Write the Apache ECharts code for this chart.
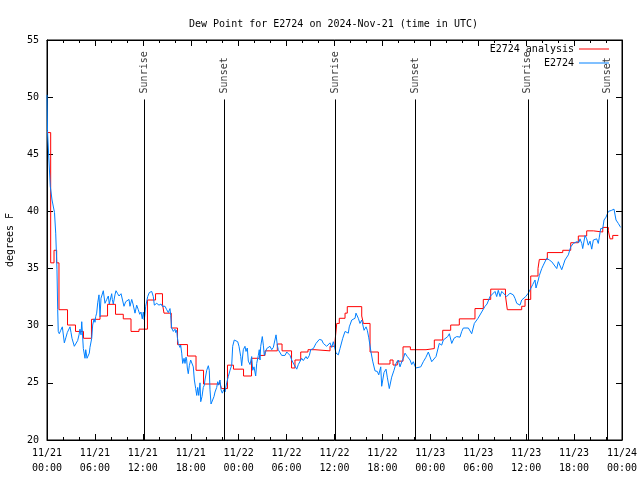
<!DOCTYPE html>
<html>
<head>
<meta charset="utf-8">
<script src="https://cdn.jsdelivr.net/npm/echarts@6/dist/echarts.min.js"></script>
<style>html,body{margin:0;padding:0;background:#fff}#chart{width:640px;height:480px}</style>
</head>
<body>
<div id="chart"></div>
<script>
// ---- data (time in hours since 2024-11-21 00:00 UTC) ----
const redHours = [0,0.46,0.88,1.21,1.50,2.57,3.57,4.57,5.57,6.64,7.58,8.58,9.55,10.52,11.52,12.58,13.59,14.46,14.65,15.56,16.34,17.59,18.66,19.60,21.60,21.85,22.60,23.35,24.61,25.61,26.61,27.30,28.84,29.43,30.62,31.05,31.77,32.68,33.56,35.44,36.06,36.28,36.60,37.32,37.60,39.41,39.61,40.45,41.49,42.95,43.33,43.86,44.58,45.50,47.46,48.50,49.55,50.55,51.63,53.59,54.63,55.56,57.41,57.64,59.44,59.86,60.57,61.48,61.65,62.65,64.58,65.58,66.53,67.58,68.41,69.59,70.29,70.50,70.84,71.54];
const redValues = [46.9,35.5,36.6,35.5,31.4,30.06,29.5,28.9,30.56,30.85,31.87,31.0,30.6,29.5,29.7,32.25,32.8,31.9,31.1,29.8,28.35,27.35,26.1,24.9,25.1,24.5,26.55,26.2,25.6,27.15,27.4,27.8,28.4,27.8,26.3,27.0,27.7,27.9,27.8,28.2,28.6,30.2,30.65,31.1,31.67,30.85,30.2,27.7,26.65,27.0,26.56,26.9,28.15,27.9,28.0,28.75,29.6,30.06,30.6,31.5,32.3,33.2,32.6,31.4,31.7,32.3,34.35,35.0,35.8,36.4,36.6,37.26,37.85,38.3,38.2,38.6,38.3,37.6,37.9,37.9];

const blueHours = [0.00,0.06,0.19,0.41,0.63,0.94,1.09,1.25,1.34,1.41,1.54,1.72,1.92,2.17,2.38,2.54,2.88,3.01,3.13,3.42,3.63,3.84,4.01,4.13,4.26,4.35,4.55,4.76,4.85,5.01,5.17,5.30,5.38,5.60,5.72,5.89,6.01,6.10,6.22,6.35,6.51,6.64,6.76,7.05,7.26,7.48,7.68,7.80,8.10,8.18,8.30,8.51,8.64,8.85,9.02,9.27,9.43,9.64,9.85,10.02,10.27,10.39,10.61,10.77,10.93,11.02,11.23,11.43,11.61,11.77,11.93,12.06,12.18,12.36,12.61,12.81,13.11,13.31,13.44,13.74,14.02,14.28,14.44,14.78,14.99,15.19,15.40,15.49,15.61,15.82,16.03,16.12,16.24,16.32,16.44,16.65,16.74,16.87,16.99,17.16,17.28,17.41,17.49,17.57,17.69,17.82,17.99,18.24,18.32,18.45,18.62,18.75,18.87,19.00,19.16,19.25,19.41,19.57,19.70,19.78,20.00,20.20,20.32,20.41,20.54,20.75,20.91,21.04,21.25,21.38,21.50,21.66,21.79,21.95,22.13,22.29,22.50,22.70,22.92,23.13,23.25,23.45,23.67,23.88,24.04,24.26,24.38,24.58,24.79,24.92,25.08,25.21,25.42,25.63,25.76,25.92,26.13,26.26,26.46,26.58,26.67,26.76,26.96,27.09,27.21,27.39,27.51,27.71,27.92,28.14,28.34,28.68,28.84,28.96,29.18,29.39,29.80,30.02,30.22,30.43,30.64,30.84,30.93,31.05,31.27,31.47,31.89,32.09,32.43,32.60,32.85,33.02,33.35,33.68,33.85,34.10,34.40,34.60,34.81,35.02,35.22,35.44,35.65,35.85,36.06,36.19,36.48,36.69,37.03,37.32,37.44,37.73,37.85,38.16,38.57,38.69,38.98,39.19,39.41,39.70,39.95,40.11,40.28,40.57,40.78,41.07,41.36,41.54,41.79,41.91,42.20,42.45,42.61,42.86,43.16,43.45,43.70,43.99,44.20,44.42,44.62,44.83,45.12,45.46,45.67,45.87,46.17,46.80,47.12,47.42,47.75,48.17,48.37,48.71,49.12,49.42,49.63,50.18,50.38,50.68,50.96,51.30,51.71,51.93,52.13,52.76,53.18,53.51,53.72,53.97,54.22,54.43,54.63,54.85,55.10,55.47,56.10,56.31,56.51,56.73,56.94,57.14,57.56,57.98,58.19,58.39,58.60,58.82,59.23,59.44,59.64,59.94,60.27,60.48,60.82,61.11,61.23,61.52,61.65,61.95,62.15,62.57,62.90,63.20,63.40,63.83,64.03,64.24,64.45,64.65,64.86,65.28,65.58,65.90,66.33,66.62,66.74,66.96,67.08,67.37,67.58,67.78,68.00,68.21,68.41,68.83,69.03,69.16,69.33,69.59,69.75,70.00,70.29,70.50,70.71,70.84,71.00,71.25,71.54,71.75,71.84];
const blueValues = [50.2,47.1,45.2,42.2,41.0,39.9,38.1,34.9,31.4,29.5,29.3,29.6,29.9,28.5,29.0,29.4,29.9,29.4,28.9,28.2,28.2,28.7,29.2,29.7,29.2,30.35,28.0,27.15,27.9,27.15,27.0,27.6,28.1,28.9,30.06,30.6,30.3,30.8,31.1,32.0,32.7,30.8,32.4,33.06,31.96,32.3,32.6,31.9,32.8,32.3,31.9,32.7,33.06,32.8,32.6,32.8,32.7,31.7,32.1,32.0,32.3,31.7,32.3,31.9,31.96,31.1,31.8,31.4,31.0,31.2,30.6,31.2,30.5,31.7,32.55,32.9,33.0,32.55,31.8,31.96,31.8,31.9,31.7,31.7,31.4,31.15,31.5,30.9,29.8,29.5,29.7,29.4,29.6,29.0,28.45,28.1,28.3,27.6,26.7,27.15,26.7,27.25,27.0,26.3,25.8,26.5,27.0,26.95,26.4,25.25,24.5,23.9,24.6,23.9,25.0,23.35,23.8,24.6,24.8,25.25,26.1,26.5,26.1,24.4,23.15,23.2,23.8,24.2,24.6,25.1,24.8,25.25,24.4,24.1,24.4,24.2,25.0,25.55,26.1,26.56,28.2,28.75,28.9,28.6,28.2,27.3,26.5,27.9,28.2,27.75,28.05,26.9,26.6,27.3,26.1,26.4,25.6,26.7,27.4,27.9,27.0,28.2,29.05,28.3,27.4,27.75,28.0,27.9,28.2,27.9,28.1,29.2,28.3,27.9,27.9,27.4,27.4,27.7,27.55,27.4,27.0,26.95,26.6,26.76,26.2,26.6,27.15,26.95,27.3,27.1,27.4,27.9,28.0,28.45,28.3,28.8,28.75,28.45,28.6,28.2,28.3,28.5,28.1,28.6,28.45,27.6,27.45,28.0,28.9,29.5,29.65,29.35,29.9,30.5,30.65,31.1,30.65,30.2,30.5,29.6,29.9,29.6,29.0,27.7,26.9,26.05,26.0,25.7,26.4,24.7,25.9,26.2,25.5,24.5,25.5,26.1,26.7,27.0,26.4,26.85,27.15,27.6,27.3,27.0,26.6,26.85,26.3,26.4,26.85,27.2,27.7,26.85,26.85,27.3,28.45,28.3,28.75,29.05,29.3,28.45,28.9,29.05,29.0,29.5,29.8,29.8,29.3,30.2,30.35,30.65,30.8,31.2,31.1,31.7,31.9,32.55,33.0,32.55,33.1,32.55,33.0,32.85,32.55,32.85,33.0,32.7,32.4,31.96,31.8,32.25,32.4,32.55,32.85,33.0,33.6,34.0,33.3,34.0,34.4,35.0,35.3,35.9,35.75,35.6,35.75,35.0,35.6,35.45,34.9,35.3,35.75,36.2,36.9,37.2,37.35,37.3,37.6,37.2,36.75,37.9,37.6,37.05,37.4,36.7,37.5,37.6,37.2,37.75,38.5,38.5,39.25,39.5,40.0,39.85,40.1,39.95,40.2,39.25,38.95,38.7,38.6];

const sunHours = [12.18, 22.2, 36.07, 46.12, 60.2, 70.15];
const sunNames = ['Sunrise', 'Sunset', 'Sunrise', 'Sunset', 'Sunrise', 'Sunset'];

const seriesNames = ['E2724 analysis', 'E2724'];
const titleText = 'Dew Point for E2724 on 2024-Nov-21 (time in UTC)';
const yName = 'degrees F';

// ---- styling / layout ----
const FONT = 'DejaVu Sans Mono';
const lineTop = 49.8; // top end of the sunrise/sunset markers (axis units)

const chart = echarts.init(document.getElementById('chart'), null, {renderer: 'canvas'});

function xLabel(v) {
  const day = 21 + Math.floor(v / 24);
  const hr = v % 24;
  return '11/' + day + '\n' + (hr < 10 ? '0' : '') + hr + ':00';
}

const tickStyle = {color: '#000', width: 1};
const xCommon = {
  type: 'value', min: 0, max: 72, interval: 6,
  axisLine: {show: true, onZero: false, lineStyle: tickStyle},
  axisTick: {show: true, inside: true, length: 6, lineStyle: tickStyle},
  minorTick: {show: true, splitNumber: 3, length: 3, lineStyle: tickStyle},
  splitLine: {show: false}
};
const yCommon = {
  type: 'value', min: 20, max: 55, interval: 5,
  axisLine: {show: true, onZero: false, lineStyle: tickStyle},
  axisTick: {show: true, inside: true, length: 6, lineStyle: tickStyle},
  splitLine: {show: false}
};

const legendCommon = {
  orient: 'horizontal', align: 'right', padding: 0,
  icon: 'rect', itemWidth: 30, itemHeight: 1,
  textStyle: {fontFamily: FONT, fontSize: 10, color: '#000'},
  selectedMode: false
};

const option = {
  animation: false,
  backgroundColor: '#ffffff',
  textStyle: {fontFamily: FONT},
  title: {
    text: titleText, left: 184, top: 14,
    textStyle: {fontFamily: FONT, fontSize: 10, fontWeight: 'normal', color: '#000'}
  },
  legend: [
    Object.assign({}, legendCommon, {data: [seriesNames[0]], right: 31, top: 44}),
    Object.assign({}, legendCommon, {data: [seriesNames[1]], right: 31, top: 58})
  ],
  grid: {left: 47, right: 18, top: 40, bottom: 40, show: true, borderColor: '#000', borderWidth: 1, outerBoundsMode: 'none'},
  xAxis: [
    Object.assign({}, xCommon, {
      position: 'bottom',
      axisLabel: {formatter: xLabel, color: '#000', fontFamily: FONT, fontSize: 10, lineHeight: 15, margin: 6}
    }),
    Object.assign({}, xCommon, {position: 'top', axisLabel: {show: false}})
  ],
  yAxis: [
    Object.assign({}, yCommon, {
      position: 'left',
      axisLabel: {color: '#000', fontFamily: FONT, fontSize: 10, margin: 8},
      name: yName, nameLocation: 'middle', nameGap: 32, nameRotate: 90,
      nameTextStyle: {color: '#000', fontFamily: FONT, fontSize: 10}
    }),
    Object.assign({}, yCommon, {position: 'right', axisLabel: {show: false}})
  ],
  series: [
    {
      name: 'sun', type: 'scatter', xAxisIndex: 0, yAxisIndex: 0,
      data: sunHours.map((h, i) => ({value: [h, lineTop], name: sunNames[i]})),
      symbolSize: 0, silent: true, z: 1,
      label: {
        show: true, formatter: '{b}', position: 'top', distance: 6,
        rotate: 90, align: 'left', verticalAlign: 'middle',
        color: '#000', fontFamily: FONT, fontSize: 10
      },
      markLine: {
        silent: true, symbol: 'none', animation: false,
        label: {show: false},
        lineStyle: {color: '#000', width: 1, type: 'solid'},
        data: sunHours.map(h => [{coord: [h, lineTop]}, {coord: [h, 20]}])
      }
    },
    {
      name: seriesNames[0], type: 'line', step: 'end', xAxisIndex: 0, yAxisIndex: 0,
      data: redHours.map((h, i) => [h, redValues[i]]),
      symbol: 'none', color: '#ff0000',
      lineStyle: {color: '#ff0000', width: 1}, z: 2
    },
    {
      name: seriesNames[1], type: 'line', xAxisIndex: 0, yAxisIndex: 0,
      data: blueHours.map((h, i) => [h, blueValues[i]]),
      symbol: 'none', color: '#0080ff',
      lineStyle: {color: '#0080ff', width: 1}, z: 3
    }
  ]
};
chart.setOption(option);
</script>
</body>
</html>
